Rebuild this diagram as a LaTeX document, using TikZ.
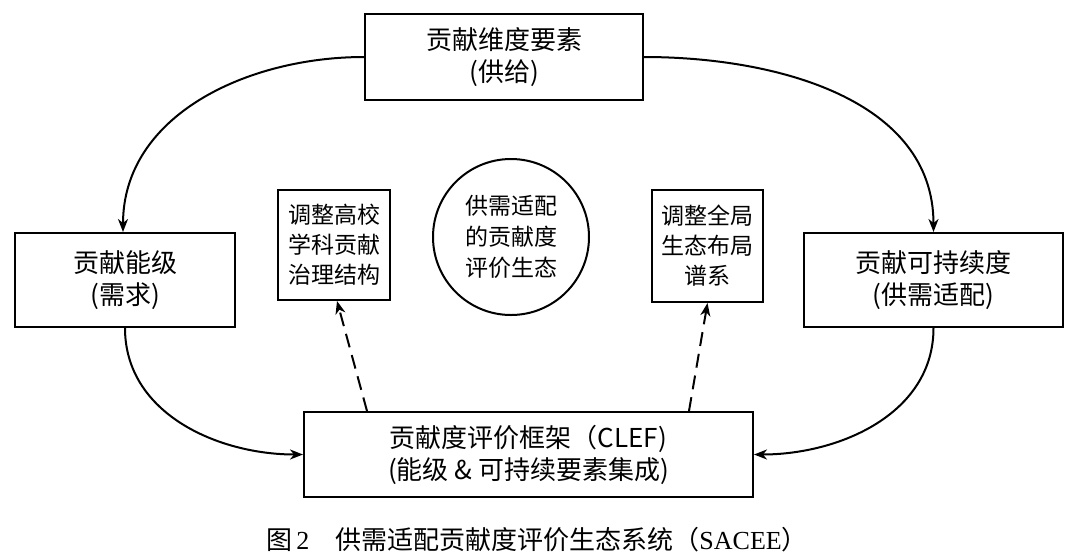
\documentclass[tikz,border=0pt]{standalone}
\usepackage{fontspec}
\setmainfont{Noto Sans CJK SC}
\newfontfamily\serifl{Liberation Serif}
\usetikzlibrary{arrows.meta,calc}
\begin{document}
\begin{tikzpicture}[x=1pt,y=-1pt,
  bigbox/.style={draw,line width=2pt,align=center,inner sep=0pt,
    font=\fontsize{26}{32}\selectfont},
  smallbox/.style={draw,line width=2pt,align=center,inner sep=0pt,
    font=\fontsize{23}{30}\selectfont},
  conn/.style={line width=2pt,-{Stealth[length=13pt,width=10pt,inset=4pt]}},
  dashconn/.style={conn,dash pattern=on 14pt off 8pt}]
\useasboundingbox (0,0) rectangle (1080,558);
\node[bigbox,minimum width=278pt,minimum height=86pt] (top) at (504,57) {贡献维度要素\\(供给)};
\node[bigbox,minimum width=220pt,minimum height=94pt] (left) at (125,280) {贡献能级\\(需求)};
\node[bigbox,minimum width=259pt,minimum height=94pt] (right) at (933.5,280) {贡献可持续度\\(供需适配)};
\node[bigbox,minimum width=449pt,minimum height=85pt] (bottom) at (528.5,454.5) {贡献度评价框架（CLEF)\\(能级 \& 可持续要素集成)};
\node[smallbox,minimum width=112pt,minimum height=110pt] (ls) at (334,245) {调整高校\\学科贡献\\治理结构};
\node[smallbox,minimum width=111pt,minimum height=112pt] (rs) at (707.5,246) {调整全局\\生态布局\\谱系};
\node[draw,circle,line width=2pt,minimum size=156pt,inner sep=0pt,align=center,
  font=\fontsize{23}{31}\selectfont] (circ) at (511,237) {供需适配\\的贡献度\\评价生态};
\draw[conn] (top.west) to[out=180,in=90] ([xshift=-2pt]left.north);
\draw[conn] (top.east) to[out=0,in=90] (right.north);
\draw[conn] (left.south) to[out=-90,in=180] (bottom.west);
\draw[conn] (right.south) to[out=-90,in=0] (bottom.east);
\draw[dashconn] ([xshift=64pt]bottom.north west) -- ([xshift=3pt]ls.south);
\draw[dashconn] ([xshift=-65pt]bottom.north east) -- (rs.south);
\node[font=\fontsize{26}{28}\selectfont,inner sep=0pt] (cap) at (537,540) {图\,{\serifl 2}\quad 供需适配贡献度评价生态系统（{\serifl SACEE}）};
\end{tikzpicture}
\end{document}
